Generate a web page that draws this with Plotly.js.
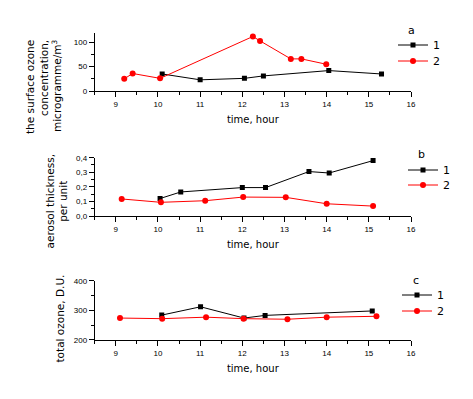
<!DOCTYPE html>
<html>
<head>
<meta charset="utf-8">
<script src="https://cdn.plot.ly/plotly-3.0.1.min.js"></script>
<style>html,body{margin:0;padding:0;background:#fff;}#chart{width:473px;height:399px;}</style>
</head>
<body>
<div id="chart"></div>
<script>
// Panel a: surface ozone concentration
var aTime1 = [10.1, 11.0, 12.05, 12.5, 14.05, 15.3];
var aOzone1 = [35, 23, 26, 31, 42, 35];
var aTime2 = [9.2, 9.4, 10.05, 12.25, 12.42, 13.15, 13.4, 13.99];
var aOzone2 = [25, 36, 26, 112, 103, 66, 66, 55];
// Panel b: aerosol thickness
var bTime1 = [10.05, 10.54, 12.0, 12.55, 13.58, 14.06, 15.1];
var bAot1 = [0.12, 0.165, 0.195, 0.195, 0.305, 0.295, 0.38];
var bTime2 = [9.14, 10.07, 11.12, 12.02, 13.03, 14.0, 15.1];
var bAot2 = [0.117, 0.094, 0.105, 0.13, 0.128, 0.084, 0.068];
// Panel c: total ozone
var cTime1 = [10.09, 11.01, 12.04, 12.54, 15.08];
var cTotal1 = [284, 312, 274, 283, 298];
var cTime2 = [9.1, 10.1, 11.14, 12.03, 13.07, 14.0, 15.18];
var cTotal2 = [274, 272, 277, 272, 270, 277, 280];
var seriesNames = ['1', '2'];
var panelLetters = ['a', 'b', 'c'];

var TF = 'DejaVu Sans, sans-serif';
var NF = 'Liberation Sans, Arial, sans-serif';

function tr(x, y, name, color, symbol, size, xa, ya, lg) {
  return {x: x, y: y, name: name, type: 'scatter', mode: 'lines+markers',
    xaxis: xa, yaxis: ya, legend: lg,
    line: {color: color, width: 1},
    marker: {color: color, symbol: symbol, size: size}};
}
var data = [
  tr(aTime1, aOzone1, seriesNames[0], '#000000', 'square', 5, 'x', 'y', 'legend'),
  tr(aTime2, aOzone2, seriesNames[1], '#ff0000', 'circle', 6, 'x', 'y', 'legend2'),
  tr(bTime1, bAot1, seriesNames[0], '#000000', 'square', 5, 'x2', 'y2', 'legend3'),
  tr(bTime2, bAot2, seriesNames[1], '#ff0000', 'circle', 6, 'x2', 'y2', 'legend4'),
  tr(cTime1, cTotal1, seriesNames[0], '#000000', 'square', 5, 'x3', 'y3', 'legend5'),
  tr(cTime2, cTotal2, seriesNames[1], '#ff0000', 'circle', 6, 'x3', 'y3', 'legend6')
];

function xax(anchor) {
  return {domain: [0.2002, 0.869], range: [8.5, 16], anchor: anchor,
    tick0: 0, dtick: 1, ticks: 'outside', ticklen: 5, tickwidth: 1, tickcolor: '#000',
    minor: {dtick: 0.5, ticks: 'outside', ticklen: 3, tickwidth: 1, tickcolor: '#000'},
    showline: true, linecolor: '#000', linewidth: 1, showgrid: false, zeroline: false,
    tickfont: {family: NF, size: 8, color: '#000'},
    title: {text: 'time, hour', font: {family: TF, size: 10, color: '#000'}, standoff: 8}};
}
function yax(anchor, dom, range, dtick, mdtick, fmt) {
  return {domain: dom, range: range, anchor: anchor, dtick: dtick, tick0: 0,
    ticks: 'outside', ticklen: 5, tickwidth: 1, tickcolor: '#000',
    minor: {dtick: mdtick, ticks: 'outside', ticklen: 3, tickwidth: 1, tickcolor: '#000'},
    showline: true, linecolor: '#000', linewidth: 1, showgrid: false, zeroline: false,
    tickformat: fmt, tickfont: {family: NF, size: 8, color: '#000'}};
}
function leg(xpx, ypx) {
  return {x: xpx / 473, y: 1 - ypx / 399, xanchor: 'left', yanchor: 'middle', bgcolor: 'rgba(0,0,0,0)',
    font: {family: TF, size: 11, color: '#000'}};
}
function ytitle(text, x, y, align) {
  return {text: text, xref: 'paper', yref: 'paper', x: x / 473, y: 1 - y / 399, xanchor: 'center', yanchor: 'middle',
    textangle: -90, align: align, showarrow: false, font: {family: TF, size: 10.5, color: '#000'}};
}
function letter(text, x, y) {
  return {text: text, xref: 'paper', yref: 'paper', x: x / 473, y: 1 - y / 399, xanchor: 'center', yanchor: 'middle',
    showarrow: false, font: {family: TF, size: 11, color: '#000'}};
}

var layout = {
  width: 473, height: 399, margin: {l: 0, r: 0, t: 0, b: 0},
  paper_bgcolor: '#fff', plot_bgcolor: '#fff', separators: ', ',
  showlegend: true,
  xaxis: xax('y'), xaxis2: xax('y2'), xaxis3: xax('y3'),
  yaxis: yax('x', [0.7719, 0.9183], [0, 120], 50, 25, ''),
  yaxis2: yax('x2', [0.4586, 0.6048], [0, 0.4001], 0.1, 0.05, '.1f'),
  yaxis3: yax('x3', [0.1479, 0.2965], [200, 400.1], 100, 50, ''),
  legend: leg(393, 45), legend2: leg(393, 61),
  legend3: leg(403, 170), legend4: leg(403, 185),
  legend5: leg(397, 295), legend6: leg(397, 311),
  annotations: [
    ytitle('the surface ozone<br>concentration,<br>microgramme/m<sup>3</sup>', 43, 87, 'right'),
    ytitle('aerosol thickness,<br>per unit', 56.5, 201, 'center'),
    ytitle('total ozone, D.U.', 59.5, 319, 'center'),
    letter(panelLetters[0], 411.7, 30.7),
    letter(panelLetters[1], 421.7, 154),
    letter(panelLetters[2], 415.7, 280.7)
  ]
};
Plotly.newPlot('chart', data, layout, {displayModeBar: false, staticPlot: true});
</script>
</body>
</html>
